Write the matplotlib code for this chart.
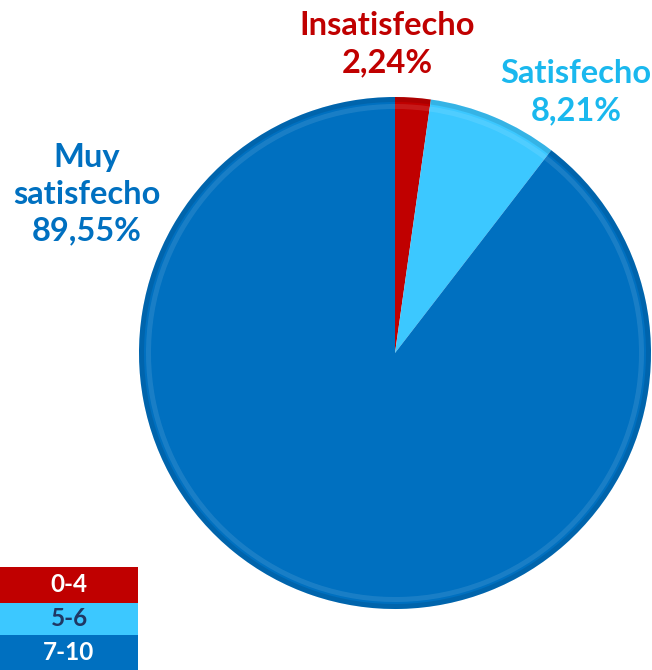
import matplotlib
matplotlib.use("Agg")
import matplotlib.pyplot as plt
from matplotlib.patches import Rectangle

categories = ["Insatisfecho", "Satisfecho", "Muy satisfecho"]
values = [2.24, 8.21, 89.55]
value_labels = ["2,24%", "8,21%", "89,55%"]
colors = ["#C00000", "#3CC8FF", "#0070C0"]
label_colors = ["#C00000", "#1AB8EE", "#0070C0"]
legend_labels = ["0-4", "5-6", "7-10"]
legend_text_colors = ["white", "#1F3864", "white"]

plt.rcParams['font.family'] = ['Lato', 'DejaVu Sans']

W, H = 652, 670
fig = plt.figure(figsize=(W / 100, H / 100), dpi=100)
ax = fig.add_axes([0, 0, 1, 1])

cx, cy, r = 395, H - 353, 256

ax.pie(values, colors=colors, startangle=90, counterclock=False,
       center=(cx, cy), radius=r, frame=True,
       wedgeprops=dict(edgecolor='none', linewidth=0))
# bevel-like effect: outer darker ring and a light highlight ring
ax.pie(values, colors=[(0, 0, 0, 0.10)] * len(values), startangle=90, counterclock=False,
       center=(cx, cy), radius=r, frame=True,
       wedgeprops=dict(width=5, edgecolor='none', linewidth=0))
ax.pie(values, colors=[(1, 1, 1, 0.10)] * len(values), startangle=90, counterclock=False,
       center=(cx, cy), radius=r - 7, frame=True,
       wedgeprops=dict(width=5, edgecolor='none', linewidth=0))
ax.set_xlim(0, W)
ax.set_ylim(0, H)
ax.set_aspect('equal')
ax.axis('off')

fs = 23.5
ls = 1.32
ax.text(387, H - 44, categories[0] + "\n" + value_labels[0], color=label_colors[0], fontsize=fs,
        fontweight='bold', ha='center', va='center', linespacing=ls)
ax.text(576, H - 92, categories[1] + "\n" + value_labels[1], color=label_colors[1], fontsize=fs,
        fontweight='bold', ha='center', va='center', linespacing=ls)
ax.text(87, H - 194, "Muy\nsatisfecho\n" + value_labels[2], color=label_colors[2], fontsize=fs,
        fontweight='bold', ha='center', va='center', linespacing=ls)

# legend table
rows = [(567, 603), (603, 635), (635, 670)]
for (y0, y1), c, lab, tc in zip(rows, colors, legend_labels, legend_text_colors):
    ax.add_patch(Rectangle((0, H - y1), 138, y1 - y0, facecolor=c, edgecolor='none'))
    ax.text(69, H - (y0 + y1) / 2, lab, color=tc, fontsize=17.5, fontweight='bold',
            ha='center', va='center')

fig.savefig("out.png", dpi=100)
